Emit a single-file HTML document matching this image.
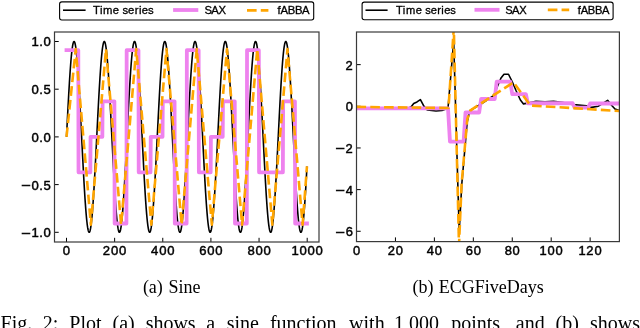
<!DOCTYPE html><html><head><meta charset="utf-8"><style>html,body{margin:0;padding:0;background:#fff;}svg{display:block;will-change:transform;}</style></head><body>
<svg width="640" height="328" viewBox="0 0 640 328">
<rect width="640" height="328" fill="#fff"/>
<defs>
<clipPath id="cl"><rect x="54.5" y="32.0" width="264.5" height="210.0"/></clipPath>
<clipPath id="cr"><rect x="356.5" y="32.0" width="262.9" height="209.6"/></clipPath>
</defs>
<line x1="66.50" y1="242.0" x2="66.50" y2="237.8" stroke="#000" stroke-width="1.0"/>
<line x1="114.64" y1="242.0" x2="114.64" y2="237.8" stroke="#000" stroke-width="1.0"/>
<line x1="162.78" y1="242.0" x2="162.78" y2="237.8" stroke="#000" stroke-width="1.0"/>
<line x1="210.92" y1="242.0" x2="210.92" y2="237.8" stroke="#000" stroke-width="1.0"/>
<line x1="259.06" y1="242.0" x2="259.06" y2="237.8" stroke="#000" stroke-width="1.0"/>
<line x1="307.20" y1="242.0" x2="307.20" y2="237.8" stroke="#000" stroke-width="1.0"/>
<line x1="54.5" y1="41.50" x2="58.7" y2="41.50" stroke="#000" stroke-width="1.0"/>
<line x1="54.5" y1="89.20" x2="58.7" y2="89.20" stroke="#000" stroke-width="1.0"/>
<line x1="54.5" y1="136.90" x2="58.7" y2="136.90" stroke="#000" stroke-width="1.0"/>
<line x1="54.5" y1="184.60" x2="58.7" y2="184.60" stroke="#000" stroke-width="1.0"/>
<line x1="54.5" y1="232.30" x2="58.7" y2="232.30" stroke="#000" stroke-width="1.0"/>
<line x1="356.50" y1="241.6" x2="356.50" y2="237.4" stroke="#000" stroke-width="1.0"/>
<line x1="395.44" y1="241.6" x2="395.44" y2="237.4" stroke="#000" stroke-width="1.0"/>
<line x1="434.38" y1="241.6" x2="434.38" y2="237.4" stroke="#000" stroke-width="1.0"/>
<line x1="473.32" y1="241.6" x2="473.32" y2="237.4" stroke="#000" stroke-width="1.0"/>
<line x1="512.26" y1="241.6" x2="512.26" y2="237.4" stroke="#000" stroke-width="1.0"/>
<line x1="551.20" y1="241.6" x2="551.20" y2="237.4" stroke="#000" stroke-width="1.0"/>
<line x1="590.14" y1="241.6" x2="590.14" y2="237.4" stroke="#000" stroke-width="1.0"/>
<line x1="356.5" y1="64.64" x2="360.7" y2="64.64" stroke="#000" stroke-width="1.0"/>
<line x1="356.5" y1="106.30" x2="360.7" y2="106.30" stroke="#000" stroke-width="1.0"/>
<line x1="356.5" y1="147.96" x2="360.7" y2="147.96" stroke="#000" stroke-width="1.0"/>
<line x1="356.5" y1="189.62" x2="360.7" y2="189.62" stroke="#000" stroke-width="1.0"/>
<line x1="356.5" y1="231.28" x2="360.7" y2="231.28" stroke="#000" stroke-width="1.0"/>
<g clip-path="url(#cl)" fill="none" stroke-linejoin="round">
<polyline points="66.50,136.90 66.74,132.13 66.98,127.38 67.22,122.64 67.46,117.95 67.70,113.30 67.94,108.71 68.18,104.19 68.43,99.75 68.67,95.40 68.91,91.16 69.15,87.04 69.39,83.03 69.63,79.17 69.87,75.44 70.11,71.87 70.35,68.46 70.59,65.23 70.83,62.17 71.07,59.30 71.31,56.62 71.55,54.15 71.80,51.88 72.04,49.82 72.28,47.98 72.52,46.37 72.76,44.98 73.00,43.82 73.24,42.89 73.48,42.20 73.72,41.74 73.96,41.52 74.20,41.54 74.44,41.80 74.68,42.30 74.92,43.03 75.17,43.99 75.41,45.19 75.65,46.62 75.89,48.28 76.13,50.15 76.37,52.25 76.61,54.55 76.85,57.06 77.09,59.77 77.33,62.67 77.57,65.76 77.81,69.03 78.05,72.46 78.29,76.06 78.53,79.81 78.78,83.70 79.02,87.72 79.26,91.87 79.50,96.13 79.74,100.49 79.98,104.94 80.22,109.47 80.46,114.08 80.70,118.73 80.94,123.44 81.18,128.17 81.42,132.93 81.66,137.70 81.90,142.47 82.15,147.22 82.39,151.95 82.63,156.64 82.87,161.28 83.11,165.86 83.35,170.36 83.59,174.79 83.83,179.12 84.07,183.34 84.31,187.45 84.55,191.43 84.79,195.27 85.03,198.97 85.27,202.51 85.52,205.89 85.76,209.10 86.00,212.13 86.24,214.96 86.48,217.61 86.72,220.05 86.96,222.28 87.20,224.30 87.44,226.10 87.68,227.68 87.92,229.03 88.16,230.16 88.40,231.04 88.64,231.70 88.89,232.11 89.13,232.29 89.37,232.23 89.61,231.93 89.85,231.40 90.09,230.63 90.33,229.62 90.57,228.38 90.81,226.91 91.05,225.22 91.29,223.31 91.53,221.18 91.77,218.84 92.01,216.30 92.25,213.56 92.50,210.62 92.74,207.50 92.98,204.21 93.22,200.75 93.46,197.12 93.70,193.35 93.94,189.44 94.18,185.39 94.42,181.22 94.66,176.95 94.90,172.57 95.14,168.10 95.38,163.56 95.62,158.94 95.87,154.28 96.11,149.57 96.35,144.83 96.59,140.07 96.83,135.30 97.07,130.53 97.31,125.78 97.55,121.06 97.79,116.38 98.03,111.75 98.27,107.18 98.51,102.69 98.75,98.28 98.99,93.97 99.24,89.76 99.48,85.68 99.72,81.72 99.96,77.90 100.20,74.22 100.44,70.71 100.68,67.36 100.92,64.18 101.16,61.18 101.40,58.38 101.64,55.77 101.88,53.36 102.12,51.16 102.36,49.18 102.60,47.41 102.85,45.87 103.09,44.56 103.33,43.48 103.57,42.63 103.81,42.02 104.05,41.64 104.29,41.50 104.53,41.60 104.77,41.94 105.01,42.52 105.25,43.33 105.49,44.37 105.73,45.65 105.97,47.15 106.22,48.88 106.46,50.83 106.70,53.00 106.94,55.37 107.18,57.95 107.42,60.72 107.66,63.69 107.90,66.84 108.14,70.16 108.38,73.65 108.62,77.30 108.86,81.10 109.10,85.04 109.34,89.10 109.59,93.29 109.83,97.58 110.07,101.98 110.31,106.46 110.55,111.01 110.79,115.64 111.03,120.31 111.27,125.03 111.51,129.77 111.75,134.54 111.99,139.31 112.23,144.07 112.47,148.81 112.71,153.53 112.96,158.20 113.20,162.83 113.44,167.38 113.68,171.86 113.92,176.25 114.16,180.55 114.40,184.73 114.64,188.80 114.88,192.74 115.12,196.53 115.36,200.18 115.60,203.67 115.84,206.99 116.08,210.14 116.32,213.10 116.57,215.87 116.81,218.45 117.05,220.82 117.29,222.99 117.53,224.93 117.77,226.66 118.01,228.16 118.25,229.44 118.49,230.48 118.73,231.29 118.97,231.86 119.21,232.20 119.45,232.30 119.69,232.16 119.94,231.78 120.18,231.16 120.42,230.31 120.66,229.23 120.90,227.91 121.14,226.37 121.38,224.60 121.62,222.62 121.86,220.42 122.10,218.01 122.34,215.40 122.58,212.59 122.82,209.59 123.06,206.41 123.31,203.06 123.55,199.54 123.79,195.87 124.03,192.05 124.27,188.09 124.51,184.00 124.75,179.80 124.99,175.48 125.23,171.08 125.47,166.58 125.71,162.01 125.95,157.38 126.19,152.70 126.43,147.98 126.67,143.23 126.92,138.46 127.16,133.69 127.40,128.93 127.64,124.19 127.88,119.48 128.12,114.81 128.36,110.20 128.60,105.66 128.84,101.19 129.08,96.82 129.32,92.54 129.56,88.37 129.80,84.33 130.04,80.42 130.29,76.64 130.53,73.02 130.77,69.56 131.01,66.27 131.25,63.15 131.49,60.22 131.73,57.48 131.97,54.94 132.21,52.60 132.45,50.47 132.69,48.56 132.93,46.87 133.17,45.41 133.41,44.17 133.66,43.17 133.90,42.40 134.14,41.86 134.38,41.57 134.62,41.51 134.86,41.69 135.10,42.11 135.34,42.76 135.58,43.65 135.82,44.78 136.06,46.13 136.30,47.71 136.54,49.51 136.78,51.54 137.03,53.77 137.27,56.22 137.51,58.86 137.75,61.70 137.99,64.73 138.23,67.94 138.47,71.32 138.71,74.86 138.95,78.56 139.19,82.41 139.43,86.39 139.67,90.50 139.91,94.72 140.15,99.05 140.39,103.47 140.64,107.98 140.88,112.56 141.12,117.20 141.36,121.89 141.60,126.62 141.84,131.37 142.08,136.14 142.32,140.91 142.56,145.67 142.80,150.40 143.04,155.11 143.28,159.77 143.52,164.37 143.76,168.90 144.01,173.35 144.25,177.71 144.49,181.97 144.73,186.12 144.97,190.14 145.21,194.03 145.45,197.78 145.69,201.37 145.93,204.80 146.17,208.07 146.41,211.15 146.65,214.06 146.89,216.76 147.13,219.27 147.38,221.57 147.62,223.66 147.86,225.54 148.10,227.19 148.34,228.62 148.58,229.81 148.82,230.78 149.06,231.51 149.30,232.00 149.54,232.26 149.78,232.28 150.02,232.06 150.26,231.60 150.50,230.90 150.75,229.97 150.99,228.81 151.23,227.42 151.47,225.80 151.71,223.96 151.95,221.90 152.19,219.63 152.43,217.15 152.67,214.48 152.91,211.60 153.15,208.54 153.39,205.31 153.63,201.90 153.87,198.33 154.11,194.60 154.36,190.73 154.60,186.73 154.84,182.60 155.08,178.36 155.32,174.01 155.56,169.57 155.80,165.05 156.04,160.46 156.28,155.81 156.52,151.11 156.76,146.38 157.00,141.63 157.24,136.86 157.48,132.09 157.73,127.33 157.97,122.60 158.21,117.91 158.45,113.26 158.69,108.67 158.93,104.15 159.17,99.71 159.41,95.37 159.65,91.13 159.89,87.00 160.13,83.00 160.37,79.13 160.61,75.41 160.85,71.84 161.10,68.43 161.34,65.20 161.58,62.14 161.82,59.28 162.06,56.60 162.30,54.13 162.54,51.86 162.78,49.81 163.02,47.97 163.26,46.35 163.50,44.97 163.74,43.81 163.98,42.88 164.22,42.19 164.46,41.74 164.71,41.52 164.95,41.54 165.19,41.80 165.43,42.30 165.67,43.04 165.91,44.00 166.15,45.21 166.39,46.64 166.63,48.29 166.87,50.17 167.11,52.27 167.35,54.57 167.59,57.08 167.83,59.79 168.08,62.70 168.32,65.79 168.56,69.06 168.80,72.49 169.04,76.09 169.28,79.84 169.52,83.73 169.76,87.76 170.00,91.91 170.24,96.17 170.48,100.53 170.72,104.98 170.96,109.52 171.20,114.12 171.45,118.78 171.69,123.48 171.93,128.22 172.17,132.98 172.41,137.74 172.65,142.51 172.89,147.26 173.13,151.99 173.37,156.68 173.61,161.32 173.85,165.90 174.09,170.40 174.33,174.83 174.57,179.15 174.81,183.38 175.06,187.48 175.30,191.46 175.54,195.30 175.78,199.00 176.02,202.54 176.26,205.92 176.50,209.13 176.74,212.15 176.98,214.99 177.22,217.63 177.46,220.07 177.70,222.30 177.94,224.32 178.18,226.12 178.43,227.70 178.67,229.05 178.91,230.17 179.15,231.05 179.39,231.70 179.63,232.12 179.87,232.29 180.11,232.23 180.35,231.93 180.59,231.39 180.83,230.62 181.07,229.61 181.31,228.37 181.55,226.90 181.80,225.21 182.04,223.29 182.28,221.16 182.52,218.82 182.76,216.27 183.00,213.53 183.24,210.59 183.48,207.47 183.72,204.18 183.96,200.71 184.20,197.09 184.44,193.32 184.68,189.40 184.92,185.35 185.17,181.19 185.41,176.91 185.65,172.53 185.89,168.06 186.13,163.52 186.37,158.90 186.61,154.24 186.85,149.53 187.09,144.78 187.33,140.02 187.57,135.25 187.81,130.49 188.05,125.74 188.29,121.02 188.53,116.34 188.78,111.71 189.02,107.14 189.26,102.65 189.50,98.24 189.74,93.93 189.98,89.72 190.22,85.64 190.46,81.68 190.70,77.86 190.94,74.19 191.18,70.68 191.42,67.33 191.66,64.15 191.90,61.16 192.15,58.35 192.39,55.75 192.63,53.34 192.87,51.14 193.11,49.16 193.35,47.40 193.59,45.86 193.83,44.55 194.07,43.47 194.31,42.62 194.55,42.01 194.79,41.64 195.03,41.50 195.27,41.60 195.52,41.94 195.76,42.52 196.00,43.34 196.24,44.38 196.48,45.66 196.72,47.17 196.96,48.90 197.20,50.85 197.44,53.02 197.68,55.39 197.92,57.97 198.16,60.75 198.40,63.72 198.64,66.87 198.88,70.19 199.13,73.68 199.37,77.33 199.61,81.13 199.85,85.07 200.09,89.14 200.33,93.33 200.57,97.62 200.81,102.02 201.05,106.50 201.29,111.06 201.53,115.68 201.77,120.35 202.01,125.07 202.25,129.82 202.50,134.58 202.74,139.35 202.98,144.11 203.22,148.86 203.46,153.57 203.70,158.25 203.94,162.87 204.18,167.42 204.42,171.90 204.66,176.29 204.90,180.59 205.14,184.77 205.38,188.84 205.62,192.77 205.87,196.56 206.11,200.21 206.35,203.70 206.59,207.02 206.83,210.16 207.07,213.13 207.31,215.90 207.55,218.47 207.79,220.84 208.03,223.00 208.27,224.95 208.51,226.67 208.75,228.18 208.99,229.45 209.24,230.49 209.48,231.30 209.72,231.87 209.96,232.20 210.20,232.30 210.44,232.16 210.68,231.78 210.92,231.16 211.16,230.30 211.40,229.22 211.64,227.90 211.88,226.36 212.12,224.59 212.36,222.60 212.60,220.40 212.85,217.99 213.09,215.37 213.33,212.56 213.57,209.57 213.81,206.39 214.05,203.03 214.29,199.51 214.53,195.84 214.77,192.01 215.01,188.05 215.25,183.96 215.49,179.76 215.73,175.45 215.97,171.04 216.22,166.54 216.46,161.97 216.70,157.34 216.94,152.66 217.18,147.93 217.42,143.18 217.66,138.42 217.90,133.65 218.14,128.89 218.38,124.15 218.62,119.44 218.86,114.77 219.10,110.16 219.34,105.62 219.59,101.15 219.83,96.78 220.07,92.50 220.31,88.34 220.55,84.29 220.79,80.38 221.03,76.61 221.27,72.99 221.51,69.53 221.75,66.24 221.99,63.12 222.23,60.19 222.47,57.45 222.71,54.91 222.95,52.58 223.20,50.45 223.44,48.55 223.68,46.86 223.92,45.39 224.16,44.16 224.40,43.16 224.64,42.39 224.88,41.86 225.12,41.56 225.36,41.51 225.60,41.69 225.84,42.11 226.08,42.77 226.32,43.66 226.57,44.79 226.81,46.14 227.05,47.73 227.29,49.53 227.53,51.56 227.77,53.79 228.01,56.24 228.25,58.89 228.49,61.73 228.73,64.76 228.97,67.97 229.21,71.35 229.45,74.89 229.69,78.60 229.94,82.44 230.18,86.43 230.42,90.53 230.66,94.76 230.90,99.09 231.14,103.51 231.38,108.02 231.62,112.60 231.86,117.24 232.10,121.93 232.34,126.66 232.58,131.42 232.82,136.18 233.06,140.95 233.31,145.71 233.55,150.45 233.79,155.15 234.03,159.81 234.27,164.41 234.51,168.94 234.75,173.39 234.99,177.75 235.23,182.01 235.47,186.15 235.71,190.17 235.95,194.06 236.19,197.81 236.43,201.40 236.67,204.83 236.92,208.10 237.16,211.18 237.40,214.08 237.64,216.79 237.88,219.29 238.12,221.59 238.36,223.68 238.60,225.55 238.84,227.20 239.08,228.63 239.32,229.82 239.56,230.79 239.80,231.52 240.04,232.01 240.29,232.26 240.53,232.28 240.77,232.05 241.01,231.59 241.25,230.90 241.49,229.97 241.73,228.80 241.97,227.41 242.21,225.79 242.45,223.94 242.69,221.88 242.93,219.61 243.17,217.13 243.41,214.45 243.66,211.58 243.90,208.52 244.14,205.28 244.38,201.87 244.62,198.29 244.86,194.57 245.10,190.70 245.34,186.69 245.58,182.56 245.82,178.32 246.06,173.97 246.30,169.53 246.54,165.01 246.78,160.42 247.03,155.77 247.27,151.07 247.51,146.34 247.75,141.58 247.99,136.82 248.23,132.05 248.47,127.29 248.71,122.56 248.95,117.86 249.19,113.22 249.43,108.63 249.67,104.11 249.91,99.67 250.15,95.33 250.39,91.09 250.64,86.96 250.88,82.96 251.12,79.10 251.36,75.38 251.60,71.81 251.84,68.41 252.08,65.17 252.32,62.12 252.56,59.25 252.80,56.58 253.04,54.11 253.28,51.84 253.52,49.79 253.76,47.95 254.01,46.34 254.25,44.95 254.49,43.80 254.73,42.87 254.97,42.19 255.21,41.73 255.45,41.52 255.69,41.54 255.93,41.81 256.17,42.31 256.41,43.04 256.65,44.01 256.89,45.22 257.13,46.65 257.38,48.31 257.62,50.19 257.86,52.28 258.10,54.59 258.34,57.11 258.58,59.82 258.82,62.73 259.06,65.82 259.30,69.09 259.54,72.52 259.78,76.12 260.02,79.87 260.26,83.77 260.50,87.79 260.74,91.94 260.99,96.20 261.23,100.57 261.47,105.02 261.71,109.56 261.95,114.16 262.19,118.82 262.43,123.52 262.67,128.26 262.91,133.02 263.15,137.79 263.39,142.55 263.63,147.31 263.87,152.03 264.11,156.72 264.36,161.36 264.60,165.94 264.84,170.44 265.08,174.87 265.32,179.19 265.56,183.41 265.80,187.52 266.04,191.50 266.28,195.34 266.52,199.03 266.76,202.57 267.00,205.95 267.24,209.15 267.48,212.18 267.73,215.01 267.97,217.65 268.21,220.09 268.45,222.32 268.69,224.34 268.93,226.13 269.17,227.71 269.41,229.06 269.65,230.17 269.89,231.06 270.13,231.71 270.37,232.12 270.61,232.29 270.85,232.23 271.10,231.93 271.34,231.39 271.58,230.61 271.82,229.60 272.06,228.36 272.30,226.89 272.54,225.19 272.78,223.27 273.02,221.14 273.26,218.80 273.50,216.25 273.74,213.51 273.98,210.57 274.22,207.45 274.46,204.15 274.71,200.68 274.95,197.06 275.19,193.28 275.43,189.36 275.67,185.32 275.91,181.15 276.15,176.87 276.39,172.49 276.63,168.02 276.87,163.47 277.11,158.86 277.35,154.19 277.59,149.48 277.83,144.74 278.08,139.98 278.32,135.21 278.56,130.45 278.80,125.70 279.04,120.98 279.28,116.29 279.52,111.67 279.76,107.10 280.00,102.61 280.24,98.20 280.48,93.89 280.72,89.69 280.96,85.60 281.20,81.65 281.45,77.83 281.69,74.16 281.93,70.65 282.17,67.30 282.41,64.12 282.65,61.13 282.89,58.33 283.13,55.72 283.37,53.32 283.61,51.13 283.85,49.15 284.09,47.39 284.33,45.85 284.57,44.54 284.81,43.46 285.06,42.62 285.30,42.01 285.54,41.63 285.78,41.50 286.02,41.60 286.26,41.95 286.50,42.53 286.74,43.34 286.98,44.39 287.22,45.67 287.46,47.18 287.70,48.92 287.94,50.87 288.18,53.04 288.43,55.42 288.67,58.00 288.91,60.78 289.15,63.74 289.39,66.90 289.63,70.22 289.87,73.72 290.11,77.37 290.35,81.17 290.59,85.11 290.83,89.18 291.07,93.36 291.31,97.66 291.55,102.06 291.80,106.54 292.04,111.10 292.28,115.72 292.52,120.39 292.76,125.11 293.00,129.86 293.24,134.62 293.48,139.39 293.72,144.15 293.96,148.90 294.20,153.61 294.44,158.29 294.68,162.91 294.92,167.46 295.16,171.94 295.41,176.33 295.65,180.62 295.89,184.81 296.13,188.87 296.37,192.80 296.61,196.60 296.85,200.24 297.09,203.73 297.33,207.05 297.57,210.19 297.81,213.15 298.05,215.92 298.29,218.49 298.53,220.86 298.78,223.02 299.02,224.97 299.26,226.69 299.50,228.19 299.74,229.46 299.98,230.50 300.22,231.30 300.46,231.87 300.70,232.20 300.94,232.30 301.18,232.15 301.42,231.77 301.66,231.15 301.90,230.30 302.15,229.21 302.39,227.89 302.63,226.34 302.87,224.57 303.11,222.58 303.35,220.38 303.59,217.96 303.83,215.35 304.07,212.54 304.31,209.54 304.55,206.36 304.79,203.00 305.03,199.48 305.27,195.80 305.52,191.98 305.76,188.02 306.00,183.93 306.24,179.72 306.48,175.41 306.72,171.00 306.96,166.50" stroke="#000" stroke-width="1.6"/>
<polyline points="66.50,50.15 78.29,50.15 78.53,172.28 90.33,172.28 90.57,136.82 102.36,136.82 102.60,101.36 114.40,101.36 114.64,223.49 126.43,223.49 126.67,50.15 138.47,50.15 138.71,172.28 150.50,172.28 150.75,136.82 162.54,136.82 162.78,101.36 174.57,101.36 174.81,223.49 186.61,223.49 186.85,50.15 198.64,50.15 198.88,172.28 210.68,172.28 210.92,136.82 222.71,136.82 222.95,101.36 234.75,101.36 234.99,223.49 246.78,223.49 247.03,50.15 258.82,50.15 259.06,172.28 270.85,172.28 271.10,172.28 282.89,172.28 283.13,101.36 294.92,101.36 295.16,223.49 306.96,223.49" stroke="#ee82ee" stroke-width="3.8" stroke-linecap="square"/>
<polyline points="66.50,136.90 75.75,49.13 90.87,224.67 105.99,49.13 121.12,224.67 136.24,49.13 151.36,224.67 166.49,49.13 181.61,224.67 196.74,49.13 211.86,224.67 226.98,49.13 242.11,224.67 257.23,49.13 272.35,224.67 287.48,49.13 302.60,224.67 306.96,166.47" stroke="#ffa500" stroke-width="2.6" stroke-dasharray="9.62,4.16"/>
</g>
<g clip-path="url(#cr)" fill="none" stroke-linejoin="round">
<polyline points="356.50,107.80 409.00,107.80 411.00,107.00 413.70,103.40 417.00,101.90 420.40,99.60 424.00,106.40 427.25,110.00 436.00,111.00 442.00,110.50 448.00,108.25 453.70,41.50 459.20,232.00 461.80,184.00 467.20,122.00 469.75,110.75 481.00,104.00 493.50,95.75 501.00,78.00 504.00,74.25 508.50,74.25 512.25,81.75 516.00,90.50 520.40,100.00 523.50,103.90 530.00,102.60 536.00,101.20 545.00,101.80 553.50,101.20 562.00,102.20 573.50,104.60 586.60,105.70 591.50,107.40 598.40,106.20 607.60,100.30 612.00,105.70 615.00,109.00 619.40,110.50" stroke="#000" stroke-width="1.6"/>
<polyline points="356.50,108.30 370.13,108.30 372.08,108.30 385.70,108.30 387.65,108.30 401.28,108.30 403.23,108.30 416.86,108.30 418.80,108.30 432.43,108.30 434.38,108.30 448.01,108.30 449.96,141.60 463.59,141.60 465.53,112.50 479.16,112.50 481.11,99.00 494.74,99.00 496.68,81.60 510.31,81.60 512.26,94.20 525.89,94.20 527.84,103.25 541.47,103.25 543.41,103.25 557.04,103.25 558.99,103.25 572.62,103.25 574.56,107.60 588.19,107.60 590.14,103.50 603.77,103.50 605.72,103.50 619.35,103.50" stroke="#ee82ee" stroke-width="3.8" stroke-linecap="square"/>
<polyline points="356.50,106.90 448.50,108.00 453.80,28.00 459.00,245.00 461.60,184.00 467.30,119.00 470.50,110.30 513.50,82.40 530.50,105.50 619.40,111.00" stroke="#ffa500" stroke-width="2.6" stroke-dasharray="9.62,4.16"/>
</g>
<rect x="54.5" y="32.0" width="264.5" height="210.0" fill="none" stroke="#3a3a3a" stroke-width="1.2"/>
<rect x="356.5" y="32.0" width="262.9" height="209.6" fill="none" stroke="#3a3a3a" stroke-width="1.2"/>
<text transform="translate(0,254.60) scale(0.99,1)" x="63.49" font-family='"Liberation Sans", sans-serif' font-size="13.23" fill="#000" stroke="#000" stroke-width="0.45">0</text>
<text transform="translate(0,254.60) scale(0.99,1)" x="103.85 112.12 120.21" font-family='"Liberation Sans", sans-serif' font-size="13.23" fill="#000" stroke="#000" stroke-width="0.45">200</text>
<text transform="translate(0,254.60) scale(0.99,1)" x="152.64 160.74 168.84" font-family='"Liberation Sans", sans-serif' font-size="13.23" fill="#000" stroke="#000" stroke-width="0.45">400</text>
<text transform="translate(0,254.60) scale(0.99,1)" x="201.27 209.37 217.47" font-family='"Liberation Sans", sans-serif' font-size="13.23" fill="#000" stroke="#000" stroke-width="0.45">600</text>
<text transform="translate(0,254.60) scale(0.99,1)" x="249.90 257.99 266.09" font-family='"Liberation Sans", sans-serif' font-size="13.23" fill="#000" stroke="#000" stroke-width="0.45">800</text>
<text transform="translate(0,254.60) scale(0.99,1)" x="294.41 302.57 310.67 318.77" font-family='"Liberation Sans", sans-serif' font-size="13.23" fill="#000" stroke="#000" stroke-width="0.45">1000</text>
<text transform="translate(0,254.60) scale(0.99,1)" x="356.46" font-family='"Liberation Sans", sans-serif' font-size="13.07" fill="#000" stroke="#000" stroke-width="0.45">0</text>
<text transform="translate(0,254.60) scale(0.99,1)" x="391.63 399.80" font-family='"Liberation Sans", sans-serif' font-size="13.07" fill="#000" stroke="#000" stroke-width="0.45">20</text>
<text transform="translate(0,254.60) scale(0.99,1)" x="431.13 439.13" font-family='"Liberation Sans", sans-serif' font-size="13.07" fill="#000" stroke="#000" stroke-width="0.45">40</text>
<text transform="translate(0,254.60) scale(0.99,1)" x="470.46 478.46" font-family='"Liberation Sans", sans-serif' font-size="13.07" fill="#000" stroke="#000" stroke-width="0.45">60</text>
<text transform="translate(0,254.60) scale(0.99,1)" x="509.80 517.80" font-family='"Liberation Sans", sans-serif' font-size="13.07" fill="#000" stroke="#000" stroke-width="0.45">80</text>
<text transform="translate(0,254.60) scale(0.99,1)" x="545.06 553.13 561.13" font-family='"Liberation Sans", sans-serif' font-size="13.07" fill="#000" stroke="#000" stroke-width="0.45">100</text>
<text transform="translate(0,254.60) scale(0.99,1)" x="584.40 592.30 600.46" font-family='"Liberation Sans", sans-serif' font-size="13.07" fill="#000" stroke="#000" stroke-width="0.45">120</text>
<text transform="translate(0,46.40) scale(0.99,1)" x="31.78 39.75 43.99" font-family='"Liberation Sans", sans-serif' font-size="13.23" fill="#000" stroke="#000" stroke-width="0.45">1.0</text>
<text transform="translate(0,94.10) scale(0.99,1)" x="31.84 39.75 43.94" font-family='"Liberation Sans", sans-serif' font-size="13.23" fill="#000" stroke="#000" stroke-width="0.45">0.5</text>
<text transform="translate(0,141.80) scale(0.99,1)" x="31.84 39.75 43.99" font-family='"Liberation Sans", sans-serif' font-size="13.23" fill="#000" stroke="#000" stroke-width="0.45">0.0</text>
<text transform="translate(0,189.90) scale(1.227,1)" x="17.23" font-family='"Liberation Sans", sans-serif' font-size="13.23" fill="#000" stroke="#000" stroke-width="0.6">−</text>
<text transform="translate(0,189.50) scale(0.99,1)" x="31.84 39.75 43.94" font-family='"Liberation Sans", sans-serif' font-size="13.23" fill="#000" stroke="#000" stroke-width="0.45">0.5</text>
<text transform="translate(0,237.60) scale(1.227,1)" x="17.23" font-family='"Liberation Sans", sans-serif' font-size="13.23" fill="#000" stroke="#000" stroke-width="0.6">−</text>
<text transform="translate(0,237.20) scale(0.99,1)" x="31.78 39.75 43.99" font-family='"Liberation Sans", sans-serif' font-size="13.23" fill="#000" stroke="#000" stroke-width="0.45">1.0</text>
<text transform="translate(0,69.54) scale(0.99,1)" x="349.06" font-family='"Liberation Sans", sans-serif' font-size="13.07" fill="#000" stroke="#000" stroke-width="0.45">2</text>
<text transform="translate(0,111.20) scale(0.99,1)" x="349.23" font-family='"Liberation Sans", sans-serif' font-size="13.07" fill="#000" stroke="#000" stroke-width="0.45">0</text>
<text transform="translate(0,153.26) scale(1.227,1)" x="273.47" font-family='"Liberation Sans", sans-serif' font-size="13.07" fill="#000" stroke="#000" stroke-width="0.6">−</text>
<text transform="translate(0,152.86) scale(0.99,1)" x="349.06" font-family='"Liberation Sans", sans-serif' font-size="13.07" fill="#000" stroke="#000" stroke-width="0.45">2</text>
<text transform="translate(0,194.92) scale(1.227,1)" x="273.47" font-family='"Liberation Sans", sans-serif' font-size="13.07" fill="#000" stroke="#000" stroke-width="0.6">−</text>
<text transform="translate(0,194.52) scale(0.99,1)" x="349.23" font-family='"Liberation Sans", sans-serif' font-size="13.07" fill="#000" stroke="#000" stroke-width="0.45">4</text>
<text transform="translate(0,236.58) scale(1.227,1)" x="273.47" font-family='"Liberation Sans", sans-serif' font-size="13.07" fill="#000" stroke="#000" stroke-width="0.6">−</text>
<text transform="translate(0,236.18) scale(0.99,1)" x="349.23" font-family='"Liberation Sans", sans-serif' font-size="13.07" fill="#000" stroke="#000" stroke-width="0.45">6</text>
<rect x="59.6" y="1.9" width="254.1" height="18.1" rx="2.2" fill="#fff" stroke="#000" stroke-width="1.1"/>
<line x1="63.8" y1="10.2" x2="84.8" y2="10.2" stroke="#000" stroke-width="1.6" stroke-linecap="square"/>
<text transform="translate(0,13.60) scale(0.98,1)" x="94.95 101.93 105.11 115.17 121.73 125.00 130.68 137.61 141.73 144.59 151.02" font-family='"Liberation Sans", sans-serif' font-size="11.50" fill="#000" stroke="#000" stroke-width="0.32">Time series</text>
<line x1="175.0" y1="10.0" x2="196.4" y2="10.0" stroke="#ee82ee" stroke-width="3.8" stroke-linecap="square"/>
<text transform="translate(0,13.60) scale(0.98,1)" x="208.69 215.66 222.95" font-family='"Liberation Sans", sans-serif' font-size="11.50" fill="#000" stroke="#000" stroke-width="0.32">SAX</text>
<line x1="247.0" y1="10.4" x2="268.4" y2="10.4" stroke="#ffa500" stroke-width="2.6" stroke-dasharray="9.62,4.16"/>
<text transform="translate(0,13.60) scale(0.98,1)" x="283.17 286.32 293.61 300.92 308.25" font-family='"Liberation Sans", sans-serif' font-size="11.50" fill="#000" stroke="#000" stroke-width="0.32">fABBA</text>
<rect x="362.1" y="2.1" width="251.0" height="17.599999999999998" rx="2.2" fill="#fff" stroke="#000" stroke-width="1.1"/>
<line x1="366.3" y1="10.2" x2="386.8" y2="10.2" stroke="#000" stroke-width="1.6" stroke-linecap="square"/>
<text transform="translate(0,14.20) scale(0.98,1)" x="404.14 411.03 414.18 424.13 430.60 433.84 439.45 446.31 450.38 453.20 459.56" font-family='"Liberation Sans", sans-serif' font-size="11.36" fill="#000" stroke="#000" stroke-width="0.32">Time series</text>
<line x1="476.4" y1="9.8" x2="497.6" y2="9.8" stroke="#ee82ee" stroke-width="3.8" stroke-linecap="square"/>
<text transform="translate(0,14.20) scale(0.98,1)" x="515.63 522.52 529.73" font-family='"Liberation Sans", sans-serif' font-size="11.36" fill="#000" stroke="#000" stroke-width="0.32">SAX</text>
<line x1="547.8" y1="9.9" x2="569.2" y2="9.9" stroke="#ffa500" stroke-width="2.6" stroke-dasharray="9.62,4.16"/>
<text transform="translate(0,14.20) scale(0.98,1)" x="589.49 592.61 599.81 607.04 614.28" font-family='"Liberation Sans", sans-serif' font-size="11.36" fill="#000" stroke="#000" stroke-width="0.32">fABBA</text>
<text x="142.88" y="293.0" font-family='"Liberation Serif", serif' font-size="18">(a)</text>
<text x="168.53" y="293.0" font-family='"Liberation Serif", serif' font-size="18">Sine</text>
<text x="412.45" y="293.0" font-family='"Liberation Serif", serif' font-size="18">(b)</text>
<text x="438.65" y="293.0" font-family='"Liberation Serif", serif' font-size="18">ECGFiveDays</text>
<text x="0.61" y="329.5" font-family='"Liberation Serif", serif' font-size="20">Fig.</text>
<text x="42.78" y="329.5" font-family='"Liberation Serif", serif' font-size="20">2:</text>
<text x="69.33" y="329.5" font-family='"Liberation Serif", serif' font-size="20">Plot</text>
<text x="112.49" y="329.5" font-family='"Liberation Serif", serif' font-size="20">(a)</text>
<text x="145.64" y="329.5" font-family='"Liberation Serif", serif' font-size="20">shows</text>
<text x="206.33" y="329.5" font-family='"Liberation Serif", serif' font-size="20">a</text>
<text x="226.78" y="329.5" font-family='"Liberation Serif", serif' font-size="20">sine</text>
<text x="269.90" y="329.5" font-family='"Liberation Serif", serif' font-size="20">function</text>
<text x="349.09" y="329.5" font-family='"Liberation Serif", serif' font-size="20">with</text>
<text x="393.91" y="329.5" font-family='"Liberation Serif", serif' font-size="20">1,000</text>
<text x="451.15" y="329.5" font-family='"Liberation Serif", serif' font-size="20">points,</text>
<text x="515.75" y="329.5" font-family='"Liberation Serif", serif' font-size="20">and</text>
<text x="555.60" y="329.5" font-family='"Liberation Serif", serif' font-size="20">(b)</text>
<text x="590.08" y="329.5" font-family='"Liberation Serif", serif' font-size="20">shows</text>
</svg></body></html>
